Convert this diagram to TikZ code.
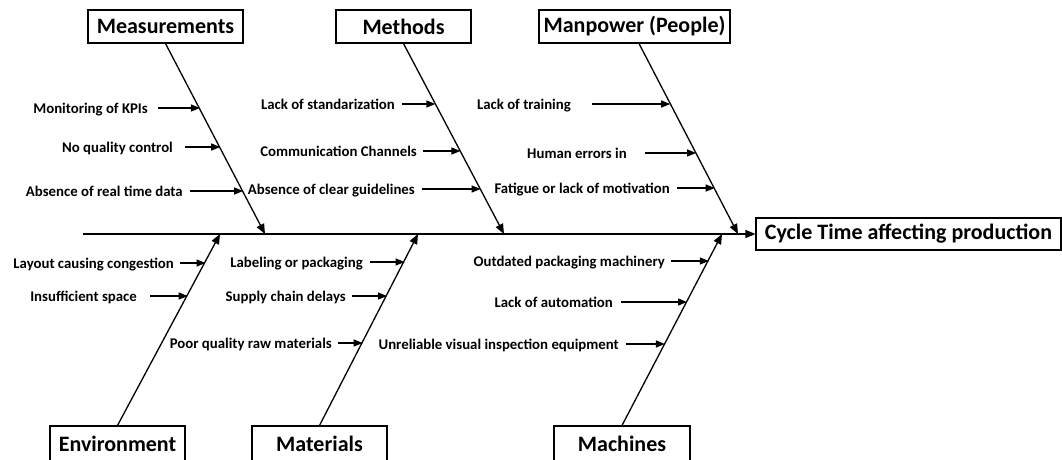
\documentclass[tikz,border=0pt]{standalone}
\usepackage{fontspec}
\setmainfont{Carlito}
\usetikzlibrary{arrows.meta}
\begin{document}
\begin{tikzpicture}[x=1pt,y=-1pt,
  box/.style={draw, line width=1.1pt, inner sep=0pt, font=\bfseries\fontsize{22}{24}\selectfont, minimum height=33pt},
  cause/.style={inner sep=0pt, anchor=base east, yshift=-5pt, font=\bfseries\fontsize{14.8}{16}\selectfont},
  arr/.style={line width=1.3pt, -{Triangle[length=9pt,width=7pt]}},
  bone/.style={line width=1.3pt, -{Triangle[length=10pt,width=8pt]}}]
\useasboundingbox (0,0) rectangle (1062,459);
% category boxes
\node[box, minimum width=155pt] (meas) at (165.5,26.5) {Measurements};
\node[box, minimum width=135pt] (meth) at (403.5,26.5) {Methods};
\node[box, minimum width=191pt] (man) at (634.5,26.5) {Manpower (People)};
\node[box, minimum width=135pt, minimum height=35pt] (env) at (117.5,443.5) {Environment};
\node[box, minimum width=135pt, minimum height=35pt] (mat) at (319.5,443.5) {Materials};
\node[box, minimum width=136pt, minimum height=35pt] (mac) at (622,443.5) {Machines};
\node[box, minimum width=305pt, minimum height=32pt] (cyc) at (908.5,234) {Cycle Time affecting production};
% spine
\coordinate (tail) at (83,234);
\draw[bone] (tail) -- (cyc.west);
% bone tips
\coordinate (b1) at (265,234);
\coordinate (b2) at (504,234);
\coordinate (b3) at (738,234);
\coordinate (b4) at (220,234);
\coordinate (b5) at (418,234);
\coordinate (b6) at (722,234);
\draw[bone] (meas.south) -- (b1);
\draw[bone] (meth.south) -- (b2);
\draw[bone] ([xshift=4.5pt]man.south) -- (b3);
\draw[bone] (env.north) -- (b4);
\draw[bone] (mat.north) -- (b5);
\draw[bone] (mac.north) -- (b6);
% Measurements causes
\node[cause] (m1) at (148,108) {Monitoring of KPIs};
\node[cause] (m2) at (173,147) {No quality control};
\node[cause] (m3) at (183,191) {Absence of real time data};
\coordinate (m1e) at (199.9,108);
\coordinate (m2e) at (220.2,147);
\coordinate (m3e) at (243.1,191);
\draw[arr] ([xshift=10pt]m1.east |- m1e) -- (m1e);
\draw[arr] ([xshift=12pt]m2.east |- m2e) -- (m2e);
\draw[arr] ([xshift=7pt]m3.east |- m3e) -- (m3e);
% Methods causes
\node[cause] (t1) at (395,104) {Lack of standarization};
\node[cause] (t2) at (417,151) {Communication Channels};
\node[cause] (t3) at (415,189) {Absence of clear guidelines};
\coordinate (t1e) at (435.4,104);
\coordinate (t2e) at (460.4,151);
\coordinate (t3e) at (480.6,189);
\draw[arr] ([xshift=7pt]t1.east |- t1e) -- (t1e);
\draw[arr] ([xshift=6pt]t2.east |- t2e) -- (t2e);
\draw[arr] ([xshift=7pt]t3.east |- t3e) -- (t3e);
% Manpower causes
\node[cause] (p1) at (571,104) {Lack of training};
\node[cause] (p2) at (627,153) {Human errors in};
\node[cause] (p3) at (670,188) {Fatigue or lack of motivation};
\coordinate (p1e) at (670.2,104);
\coordinate (p2e) at (696.1,153);
\coordinate (p3e) at (714.7,188);
\draw[arr] ([xshift=21pt]p1.east |- p1e) -- (p1e);
\draw[arr] ([xshift=18pt]p2.east |- p2e) -- (p2e);
\draw[arr] ([xshift=7pt]p3.east |- p3e) -- (p3e);
% Environment causes
\node[cause] (e1) at (174,263) {Layout causing congestion};
\node[cause] (e2) at (137,296) {Insufficient space};
\coordinate (e1e) at (205.5,263);
\coordinate (e2e) at (187.7,296);
\draw[arr] ([xshift=6pt]e1.east |- e1e) -- (e1e);
\draw[arr] ([xshift=13pt]e2.east |- e2e) -- (e2e);
% Materials causes
\node[cause] (a1) at (363,262) {Labeling or packaging};
\node[cause] (a2) at (346,296) {Supply chain delays};
\node[cause] (a3) at (332,343) {Poor quality raw materials};
\coordinate (a1e) at (404.6,262);
\coordinate (a2e) at (387,296);
\coordinate (a3e) at (362.6,343);
\draw[arr] ([xshift=7pt]a1.east |- a1e) -- (a1e);
\draw[arr] ([xshift=6pt]a2.east |- a2e) -- (a2e);
\draw[arr] ([xshift=6pt]a3.east |- a3e) -- (a3e);
% Machines causes
\node[cause] (c1) at (665,261) {Outdated packaging machinery};
\node[cause] (c2) at (613,302) {Lack of automation};
\node[cause] (c3) at (619,344) {Unreliable visual inspection equipment};
\coordinate (c1e) at (708.8,261);
\coordinate (c2e) at (687,302);
\coordinate (c3e) at (664.9,344);
\draw[arr] ([xshift=6pt]c1.east |- c1e) -- (c1e);
\draw[arr] ([xshift=8pt]c2.east |- c2e) -- (c2e);
\draw[arr] ([xshift=7pt]c3.east |- c3e) -- (c3e);
\end{tikzpicture}
\end{document}
